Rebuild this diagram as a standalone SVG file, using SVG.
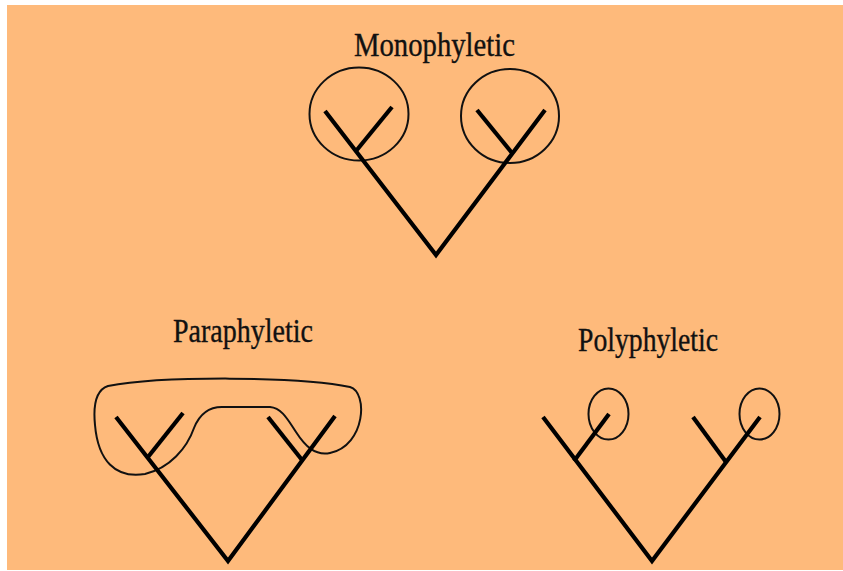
<svg xmlns="http://www.w3.org/2000/svg" width="843" height="571" viewBox="0 0 843 571">
<style>
.lbl{font-family:"Liberation Serif","Times New Roman",serif;font-size:33px;fill:#111;stroke:#111;stroke-width:0.35}
.br{fill:none;stroke:#000;stroke-width:4.2;stroke-linecap:butt;stroke-linejoin:miter}
.ring{fill:none;stroke:#111;stroke-width:2}
</style>
<rect x="0" y="0" width="843" height="571" fill="#ffffff"/>
<rect x="7" y="5" width="836" height="565" fill="#FEBA7B"/>
<g id="monophyletic">
<text class="lbl" x="354" y="56" textLength="161" lengthAdjust="spacingAndGlyphs">Monophyletic</text>
<ellipse class="ring" cx="359" cy="114" rx="49.5" ry="46.5"/>
<ellipse class="ring" cx="510" cy="116" rx="49" ry="47"/>
</g>
<g id="paraphyletic">
<text class="lbl" x="173" y="341.5" textLength="140" lengthAdjust="spacingAndGlyphs">Paraphyletic</text>
<path class="ring" d="M108,386 C160,376 300,376 350,387 C368,392 366,445 330,453 C315,456 305,446 296,432 C288,420 282,408 270,407 L222,407 C205,407 198,418 194,428 C187,448 170,468 145,474 C115,479 98,460 95,425 C93,405 96,390 108,386 Z"/>
</g>
<g id="polyphyletic">
<text class="lbl" x="578" y="351" textLength="140" lengthAdjust="spacingAndGlyphs">Polyphyletic</text>
<ellipse class="ring" cx="608.5" cy="414" rx="20" ry="25.5"/>
<ellipse class="ring" cx="759.5" cy="414" rx="20" ry="25.5"/>
</g>
<g id="connectors">
<polyline class="br" points="325,111 436,255 545,110"/>
<line class="br" x1="392" y1="107" x2="356" y2="151"/>
<line class="br" x1="477" y1="110" x2="512" y2="153"/>
<polyline class="br" points="116,417 228,561 335,416"/>
<line class="br" x1="183" y1="413" x2="148" y2="457"/>
<line class="br" x1="268" y1="417" x2="302" y2="460"/>
<polyline class="br" points="543,417 652,561 760,417"/>
<line class="br" x1="609" y1="414" x2="574" y2="461"/>
<line class="br" x1="693" y1="417" x2="726" y2="462"/>
</g>
</svg>
